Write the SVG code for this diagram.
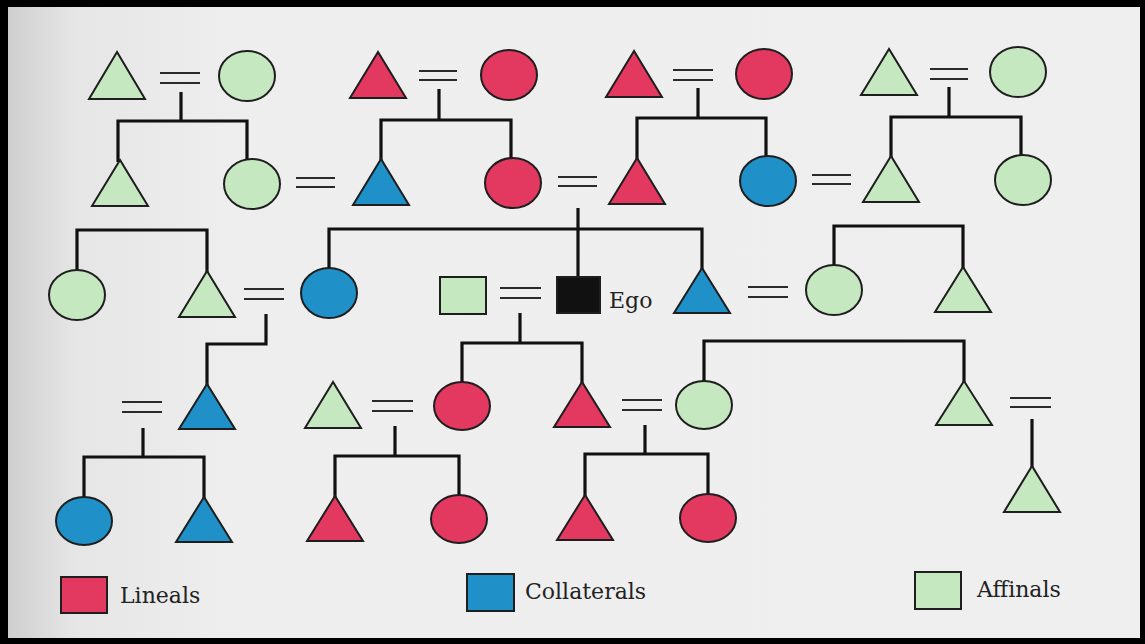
<svg xmlns="http://www.w3.org/2000/svg" width="1145" height="644" viewBox="0 0 1145 644">
  <defs>
    <linearGradient id="bg" x1="0" y1="0" x2="1" y2="0">
      <stop offset="0" stop-color="#cfcfcf"/>
      <stop offset="0.06" stop-color="#e6e6e6"/>
      <stop offset="0.2" stop-color="#eeeeee"/>
      <stop offset="1" stop-color="#efefef"/>
    </linearGradient>
  </defs>
  <style>
    .frame { fill: #000; }
    .shape { stroke: #1e1e1e; stroke-width: 2; }
    .red { fill: #e3385f; }
    .blue { fill: #2090c8; }
    .green { fill: #c6e8c0; }
    .ego { fill: #111111; }
    .eq { stroke: #2a2a2a; stroke-width: 2; fill: none; }
    .line { stroke: #111; stroke-width: 3.2; fill: none; stroke-linejoin: miter; }
    .label { font-family: "DejaVu Serif", "Liberation Serif", serif; font-size: 22px; fill: #222; }
  </style>
  <rect x="0" y="0" width="1145" height="644" class="frame"/>
  <rect x="8" y="7" width="1132" height="631" fill="url(#bg)"/>

  <g id="connectors">
    <path class="line" d="M181,92 V121 M118,162 V121 H247 V160"/>
    <path class="line" d="M439,89 V120 M381,160 V120 H511 V159"/>
    <path class="line" d="M698,88 V118 M637,159 V118 H766 V157"/>
    <path class="line" d="M949,87 V117 M891,157 V117 H1021 V156"/>
    <path class="line" d="M578,208 V277 M329,269 V229 H702 V269"/>
    <path class="line" d="M77,271 V230 H207 V272"/>
    <path class="line" d="M834,266 V226 H963 V268"/>
    <path class="line" d="M266,314 V344 H207 V385"/>
    <path class="line" d="M520,313 V343 M462,382 V343 H582 V383"/>
    <path class="line" d="M704,381 V341 H964 V382"/>
    <path class="line" d="M143,428 V457 M84,497 V457 H204 V498"/>
    <path class="line" d="M395,426 V456 M335,497 V456 H459 V495"/>
    <path class="line" d="M645,425 V454 M585,496 V454 H708 V494"/>
    <path class="line" d="M1032,419 V467"/>
    <g id="marriages">
      <path class="eq" d="M160,73 H200 M160,83 H200"/>
      <path class="eq" d="M419,71 H457 M419,80 H457"/>
      <path class="eq" d="M673,70 H713 M673,80 H713"/>
      <path class="eq" d="M930,69 H968 M930,79 H968"/>
      <path class="eq" d="M296,178 H335 M296,187 H335"/>
      <path class="eq" d="M558,177 H597 M558,186 H597"/>
      <path class="eq" d="M812,175 H851 M812,184 H851"/>
      <path class="eq" d="M244,289 H284 M244,299 H284"/>
      <path class="eq" d="M500,288 H541 M500,298 H541"/>
      <path class="eq" d="M748,287 H788 M748,297 H788"/>
      <path class="eq" d="M122,402 H162 M122,412 H162"/>
      <path class="eq" d="M372,401 H413 M372,411 H413"/>
      <path class="eq" d="M622,400 H662 M622,410 H662"/>
      <path class="eq" d="M1010,398 H1051 M1010,407 H1051"/>
    </g>
  </g>

  <!-- Generation 1 -->
  <g id="n1"><polygon class="shape green" points="117,52 89,99 145,99"/></g>
  <g id="n2"><ellipse class="shape green" cx="247" cy="76" rx="28" ry="25"/></g>
  <g id="n3"><polygon class="shape red" points="378,52 350,98 406,98"/></g>
  <g id="n4"><ellipse class="shape red" cx="509" cy="75" rx="28" ry="25"/></g>
  <g id="n5"><polygon class="shape red" points="634,51 606,97 662,97"/></g>
  <g id="n6"><ellipse class="shape red" cx="764" cy="74" rx="28" ry="25"/></g>
  <g id="n7"><polygon class="shape green" points="889,49 861,95 917,95"/></g>
  <g id="n8"><ellipse class="shape green" cx="1018" cy="72" rx="28" ry="25"/></g>

  <!-- Generation 2 -->
  <g id="n9"><polygon class="shape green" points="120,160 92,206 148,206"/></g>
  <g id="n10"><ellipse class="shape green" cx="252" cy="184" rx="28" ry="25"/></g>
  <g id="n11"><polygon class="shape blue" points="381,159 353,205 409,205"/></g>
  <g id="n12"><ellipse class="shape red" cx="513" cy="183" rx="28" ry="25"/></g>
  <g id="n13"><polygon class="shape red" points="637,158 609,204 665,204"/></g>
  <g id="n14"><ellipse class="shape blue" cx="768" cy="181" rx="28" ry="25"/></g>
  <g id="n15"><polygon class="shape green" points="891,156 863,202 919,202"/></g>
  <g id="n16"><ellipse class="shape green" cx="1023" cy="180" rx="28" ry="25"/></g>

  <!-- Generation 3 (Ego) -->
  <g id="n17"><ellipse class="shape green" cx="77" cy="295" rx="28" ry="25"/></g>
  <g id="n18"><polygon class="shape green" points="207,271 179,317 235,317"/></g>
  <g id="n19"><ellipse class="shape blue" cx="329" cy="293" rx="28" ry="25"/></g>
  <g id="n20"><rect class="shape green" x="440" y="277" width="46" height="37"/></g>
  <g id="n21"><rect class="shape ego" x="557" y="277" width="43" height="36"/><text class="label" x="609" y="308">Ego</text></g>
  <g id="n22"><polygon class="shape blue" points="702,268 674,313 730,313"/></g>
  <g id="n23"><ellipse class="shape green" cx="834" cy="290" rx="28" ry="25"/></g>
  <g id="n24"><polygon class="shape green" points="963,267 935,312 991,312"/></g>

  <!-- Generation 4 -->
  <g id="n25"><polygon class="shape blue" points="207,384 179,429 235,429"/></g>
  <g id="n26"><polygon class="shape green" points="333,382 305,428 361,428"/></g>
  <g id="n27"><ellipse class="shape red" cx="462" cy="406" rx="28" ry="24"/></g>
  <g id="n28"><polygon class="shape red" points="582,382 554,427 610,427"/></g>
  <g id="n29"><ellipse class="shape green" cx="704" cy="405" rx="28" ry="24"/></g>
  <g id="n30"><polygon class="shape green" points="964,381 936,425 992,425"/></g>

  <!-- Generation 5 -->
  <g id="n31"><ellipse class="shape blue" cx="84" cy="521" rx="28" ry="24"/></g>
  <g id="n32"><polygon class="shape blue" points="204,497 176,542 232,542"/></g>
  <g id="n33"><polygon class="shape red" points="335,496 307,541 363,541"/></g>
  <g id="n34"><ellipse class="shape red" cx="459" cy="519" rx="28" ry="24"/></g>
  <g id="n35"><polygon class="shape red" points="585,495 557,540 613,540"/></g>
  <g id="n36"><ellipse class="shape red" cx="708" cy="518" rx="28" ry="24"/></g>
  <g id="n37"><polygon class="shape green" points="1032,466 1004,512 1060,512"/></g>

  <!-- Legend -->
  <g id="legend-lineals"><rect class="shape red" x="61" y="577" width="46" height="36"/><text class="label" x="120" y="603">Lineals</text></g>
  <g id="legend-collaterals"><rect class="shape blue" x="467" y="574" width="47" height="37"/><text class="label" x="525" y="599">Collaterals</text></g>
  <g id="legend-affinals"><rect class="shape green" x="915" y="572" width="46" height="37"/><text class="label" x="977" y="597">Affinals</text></g>
</svg>
